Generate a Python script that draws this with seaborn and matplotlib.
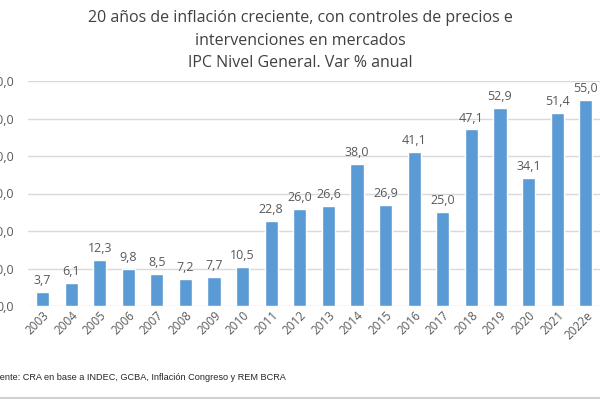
import matplotlib
matplotlib.use('Agg')
import matplotlib.pyplot as plt
import seaborn as sns
import pandas as pd

# data
years = ['2003', '2004', '2005', '2006', '2007', '2008', '2009', '2010', '2011', '2012',
         '2013', '2014', '2015', '2016', '2017', '2018', '2019', '2020', '2021', '2022e']
inflation = [3.7, 6.1, 12.3, 9.8, 8.5, 7.2, 7.7, 10.5, 22.8, 26.0,
             26.6, 38.0, 26.9, 41.1, 25.0, 47.1, 52.9, 34.1, 51.4, 55.0]
y_ticks = [0, 10, 20, 30, 40, 50, 60]

df = pd.DataFrame({'year': years, 'ipc': inflation})

sns.set_style('white')
plt.rcParams['font.family'] = ['Open Sans', 'DejaVu Sans']

text_col = '#595959'
fig = plt.figure(figsize=(6, 4), dpi=100)
ax = fig.add_axes([0.047, 0.235, 0.953, 0.5625])

sns.barplot(data=df, x='year', y='ipc', color='#5B9BD5', saturation=1, width=0.46, ax=ax)

for i, v in enumerate(inflation):
    ax.text(i, v + 1.3, f'{v:.1f}'.replace('.', ','), ha='center', va='bottom',
            fontsize=9, color=text_col, clip_on=False)

ax.set_ylim(0, 60)
ax.set_yticks(y_ticks)
ax.set_yticklabels([f'{t},0' for t in y_ticks], fontsize=9, color=text_col)
ax.tick_params(axis='y', length=0, pad=10)
ax.tick_params(axis='x', length=0, pad=2)
plt.setp(ax.get_xticklabels(), rotation=45, ha='right', rotation_mode='anchor',
         fontsize=8.5, color=text_col)
ax.set_xlabel('')
ax.set_ylabel('')
ax.yaxis.grid(True, color='#D9D9D9', linewidth=1)
ax.set_axisbelow(True)
for s in ax.spines.values():
    s.set_visible(False)

fig.text(0.5, 0.955, '20 años de inflación creciente, con controles de precios e',
         ha='center', va='center', fontsize=11.5, color='#404040')
fig.text(0.5, 0.897, 'intervenciones en mercados', ha='center', va='center',
         fontsize=11.5, color='#404040')
fig.text(0.5, 0.843, 'IPC Nivel General. Var % anual', ha='center', va='center',
         fontsize=11.5, color='#404040')

fig.text(-0.018, 0.055, 'Fuente: CRA en base a INDEC, GCBA, Inflación Congreso y REM BCRA',
         ha='left', va='center', fontsize=6.6, color='#262626',
         family=['Liberation Sans', 'DejaVu Sans'])

fig.add_artist(plt.Line2D([0, 1], [0.006, 0.006], color='#D0D0D0', linewidth=1.5))

fig.savefig('out.png', dpi=100)
